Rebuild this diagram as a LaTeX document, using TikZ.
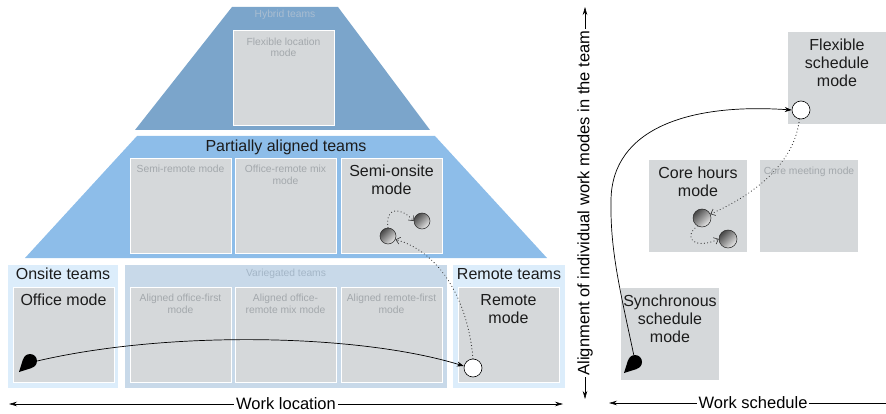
\documentclass[tikz,border=0pt]{standalone}
\usepackage{fontspec}
\setmainfont{Liberation Sans}
\usetikzlibrary{arrows.meta,calc}

\definecolor{hybridblue}{HTML}{7BA5CB}
\definecolor{partialblue}{HTML}{8DBDE9}
\definecolor{edgepanel}{HTML}{DCEDFB}
\definecolor{varpanel}{HTML}{C8D9E9}
\definecolor{modegray}{HTML}{D5D8DA}
\definecolor{fadedtext}{HTML}{A3A8AC}
\definecolor{hybridtext}{HTML}{A9BDD1}
\definecolor{vartext}{HTML}{A4B6C7}
\definecolor{inkblack}{HTML}{1C1C1C}

\tikzset{
  modebox/.style={rectangle, draw=white, line width=0.8pt, fill=modegray,
    minimum width=101pt, minimum height=95pt, inner sep=0pt},
  schedbox/.style={rectangle, fill=modegray,
    minimum width=98pt, minimum height=92pt, inner sep=0pt},
  panel/.style={rectangle, fill=#1, minimum height=123pt, inner sep=0pt},
  bigtext/.style={font=\fontsize{16}{18}\selectfont, text=inkblack, align=center},
  faint/.style={font=\fontsize{10.3}{11.5}\selectfont, text=fadedtext, align=center},
  toptext/.style={bigtext, anchor=north, yshift=-4pt},
  topfaint/.style={faint, anchor=north, yshift=-4pt},
  ball/.style={circle, draw=black!85, line width=0.5pt, minimum size=#1, inner sep=0pt,
    top color=black!72, bottom color=black!8, shading angle=45},
  hollow/.style={circle, draw=black, line width=0.6pt, fill=white, minimum size=18pt, inner sep=0pt},
  dropbody/.style={circle, fill=black, minimum size=14pt, inner sep=0pt},
  move/.style={line width=0.7pt, -{Stealth[length=7pt,width=5pt]}},
  drift/.style={line width=1.1pt, black!80, line cap=round, dash pattern=on 0.1pt off 3.2pt,
    -{Straight Barb[length=4pt,width=7pt,line width=0.6pt]}},
  axis/.style={line width=0.6pt, {Stealth[length=8pt,width=4.5pt]}-{Stealth[length=8pt,width=4.5pt]}},
  axislabel/.style={font=\fontsize{16.5}{19}\selectfont, fill=white, inner sep=2pt}
}

\begin{document}
\begin{tikzpicture}[x=1pt,y=-1pt]
\useasboundingbox (0,0) rectangle (886,414);

% ---- team layers (location view) ----
\fill[hybridblue] (232,7) -- (338,7) -- (430,130) -- (135,130) -- cycle;
\fill[partialblue] (137,136) -- (435,136) -- (547,258) -- (25,258) -- cycle;

\node[faint, text=hybridtext] (hybridT) at (285,15) {Hybrid teams};
\node[bigtext] (partialT) at (286,147) {Partially aligned teams};

\node[modebox, label={[topfaint]north:Flexible location\\mode}] (flexloc) at (283.5,78) {};

\node[modebox, label={[topfaint]north:Semi-remote mode}] (semiremote) at (180.5,205.5) {};
\node[modebox, label={[topfaint]north:Office-remote mix\\mode}] (officeremote) at (285.5,205.5) {};
\node[modebox, label={[toptext]north:Semi-onsite\\mode}] (semionsite) at (391.5,205.5) {};

% bottom row panels
\node[panel=edgepanel, minimum width=110pt,
  label={[bigtext, anchor=north, yshift=0pt]north:Onsite teams}] (onsiteP) at (63,326.5) {};
\node[panel=varpanel, minimum width=322pt,
  label={[faint, text=vartext, anchor=north, yshift=-0.5pt]north:Variegated teams}] (varP) at (286,326.5) {};
\node[panel=edgepanel, minimum width=112pt,
  label={[bigtext, anchor=north, yshift=0pt]north:Remote teams}] (remoteP) at (509,326.5) {};

\node[modebox, label={[toptext]north:Office mode}] (office) at (63.5,334.5) {};
\node[modebox, label={[topfaint]north:Aligned office-first\\mode}] (alignedOF) at (180.5,334.5) {};
\node[modebox, label={[topfaint]north:Aligned office-\\remote mix mode}] (alignedMix) at (285.5,334.5) {};
\node[modebox, label={[topfaint]north:Aligned remote-first\\mode}] (alignedRF) at (391.5,334.5) {};
\node[modebox, label={[toptext]north:Remote\\mode}] (remote) at (508.5,334.5) {};

% ---- schedule view ----
\node[schedbox, label={[toptext]north:Flexible\\schedule\\mode}] (flexsched) at (837,78) {};
\node[schedbox, label={[toptext]north:Core hours\\mode}] (corehours) at (698,206) {};
\node[schedbox, label={[topfaint]north:Core meeting mode}] (coremeet) at (809,206) {};
\node[schedbox, label={[toptext]north:Synchronous\\schedule\\mode}] (sync) at (670,334) {};

% ---- markers ----
\node[dropbody] (dropL) at (30,361) {};
\fill (dropL.162) -- ([shift={(-11,11)}]dropL.center) -- (dropL.288) -- cycle;
\node[hollow] (endL) at (473,368) {};
\node[ball=16pt] (semiA) at (388,236) {};
\node[ball=16pt] (semiB) at (422,221) {};

\node[dropbody] (dropR) at (635,362) {};
\fill (dropR.162) -- ([shift={(-11,11)}]dropR.center) -- (dropR.288) -- cycle;
\node[hollow] (endR) at (801,110) {};
\node[ball=18pt] (coreA) at (702,218) {};
\node[ball=18pt] (coreB) at (728,239) {};

% ---- transitions ----
\draw[move] (dropL.east) .. controls (170,330) and (360,334) .. (endL.168);
\draw[drift] (endL.north) .. controls (468,300) and (440,252) .. (semiA.-25);
\draw[drift] (semiA.north) .. controls (385,205) and (402,208) .. (semiB.west);

\draw[move] (dropR.100) .. controls (620,290) and (610,250) .. (611,200)
  .. controls (612,128) and (690,103) .. (endR.west);
\draw[drift] (endR.-100) .. controls (795,160) and (760,192) .. (coreA.25);
\draw[drift] (coreA.-120) .. controls (682,238) and (695,250) .. (coreB.west);

% ---- axes ----
\coordinate (locL) at (9,404);
\coordinate (locR) at (563,404);
\draw[axis] (locL) -- node[axislabel] (locT) {Work location} (locR);

\coordinate (schL) at (609,403);
\coordinate (schR) at (886,403);
\draw[line width=0.6pt, {Stealth[length=8pt,width=4.5pt]}-] (schL) -- node[axislabel, pos=0.52] (schT) {Work schedule} (schR);

\coordinate (alnB) at (585,399);
\coordinate (alnT) at (585,7);
\draw[axis] (alnB) -- node[axislabel, rotate=90] (alnText) {Alignment of individual work modes in the team} (alnT);
\end{tikzpicture}
\end{document}
